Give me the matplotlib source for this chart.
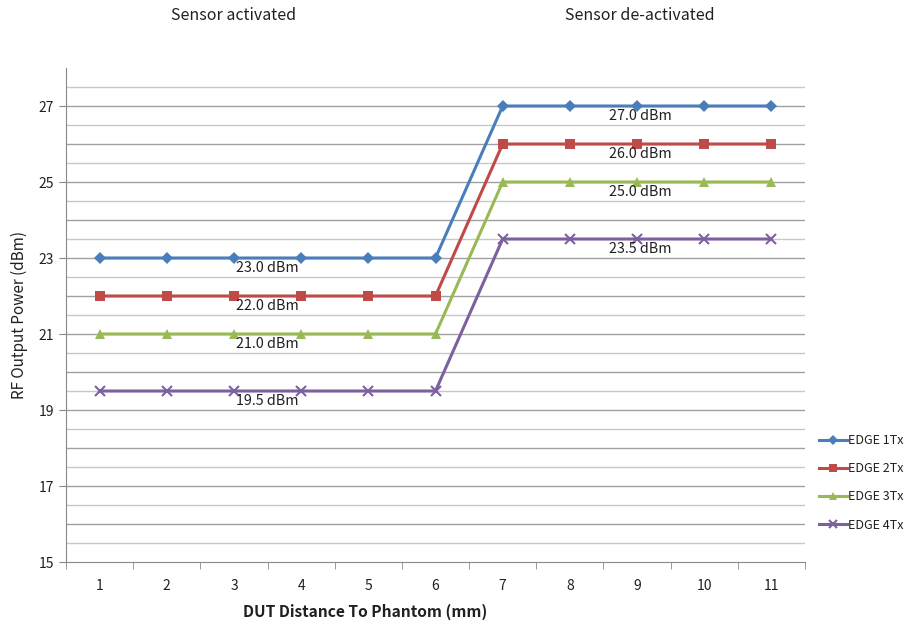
import matplotlib
matplotlib.use("Agg")
import matplotlib.pyplot as plt
from matplotlib.ticker import MultipleLocator, FixedLocator

plt.rcParams['font.family'] = ['Noto Sans CJK KR', 'DejaVu Sans']

distance = list(range(1, 12))
edge_1tx = [23, 23, 23, 23, 23, 23, 27, 27, 27, 27, 27]
edge_2tx = [22, 22, 22, 22, 22, 22, 26, 26, 26, 26, 26]
edge_3tx = [21, 21, 21, 21, 21, 21, 25, 25, 25, 25, 25]
edge_4tx = [19.5, 19.5, 19.5, 19.5, 19.5, 19.5, 23.5, 23.5, 23.5, 23.5, 23.5]

series_names = ["EDGE 1Tx", "EDGE 2Tx", "EDGE 3Tx", "EDGE 4Tx"]
series_vals = [edge_1tx, edge_2tx, edge_3tx, edge_4tx]
colors = ["#4a7ebb", "#be4b48", "#98b954", "#7d60a0"]
markers = ["D", "s", "^", "x"]
msizes = [6, 7, 7, 7]

fig = plt.figure(figsize=(9.09, 6.25), dpi=100)
ax = fig.add_axes([66/909, 1-562/625, (805-66)/909, (562-68)/625])

for name, vals, c, m, ms in zip(series_names, series_vals, colors, markers, msizes):
    ax.plot(distance, vals, color=c, lw=2.2, marker=m, ms=ms, mew=1.5 if m == "x" else 0,
            mec=c, mfc=c, label=name, zorder=3)

# value labels for the two power states
for vals in series_vals:
    lo, hi = vals[0], vals[-1]
    ax.text(3.5, lo - 0.07, f"{lo:.1f} dBm", ha="center", va="top", fontsize=10.3, color="#202020", zorder=4)
    ax.text(9.05, hi - 0.07, f"{hi:.1f} dBm", ha="center", va="top", fontsize=10.3, color="#202020", zorder=4)

ax.set_xlim(0.5, 11.5)
ax.set_ylim(15, 28)
ax.yaxis.set_major_locator(FixedLocator([15, 17, 19, 21, 23, 25, 27]))
ax.yaxis.set_minor_locator(MultipleLocator(0.5))
ax.set_xticks(distance)
ax.xaxis.set_minor_locator(FixedLocator([x + 0.5 for x in range(0, 12)]))

for y in [i * 0.5 for i in range(31, 56)]:
    col = "#a0a0a0" if y == int(y) else "#c8c8c8"
    ax.axhline(y, color=col, lw=1, zorder=1)

ax.tick_params(axis="x", which="major", length=0, labelsize=10, pad=12, colors="#202020")
ax.tick_params(axis="x", which="minor", length=5, color="#888888", direction="out")
ax.tick_params(axis="y", which="major", length=5, color="#888888", labelsize=10, colors="#202020")
ax.tick_params(axis="y", which="minor", length=0)
for s in ["top", "right"]:
    ax.spines[s].set_visible(False)
for s in ["left", "bottom"]:
    ax.spines[s].set_color("#888888")

ax.set_ylabel("RF Output Power (dBm)", fontsize=11, color="#202020", labelpad=8)
fig.text(365/909, 1-612/625, "DUT Distance To Phantom (mm)", ha="center", va="center",
         fontsize=11.2, fontweight="bold", color="#202020")

fig.text(234/909, 1-15/625, "Sensor activated", ha="center", va="center", fontsize=11.5, color="#202020")
fig.text(640/909, 1-15/625, "Sensor de-activated", ha="center", va="center", fontsize=11.5, color="#202020")

leg = fig.legend(loc="upper left", bbox_to_anchor=(814/909, 1-429/625), frameon=False,
                 fontsize=9, labelspacing=1.22, handlelength=2.2, handletextpad=0.15,
                 borderaxespad=0, markerscale=0.8)
for t in leg.get_texts():
    t.set_color("#202020")

fig.savefig("out.png", dpi=100)
